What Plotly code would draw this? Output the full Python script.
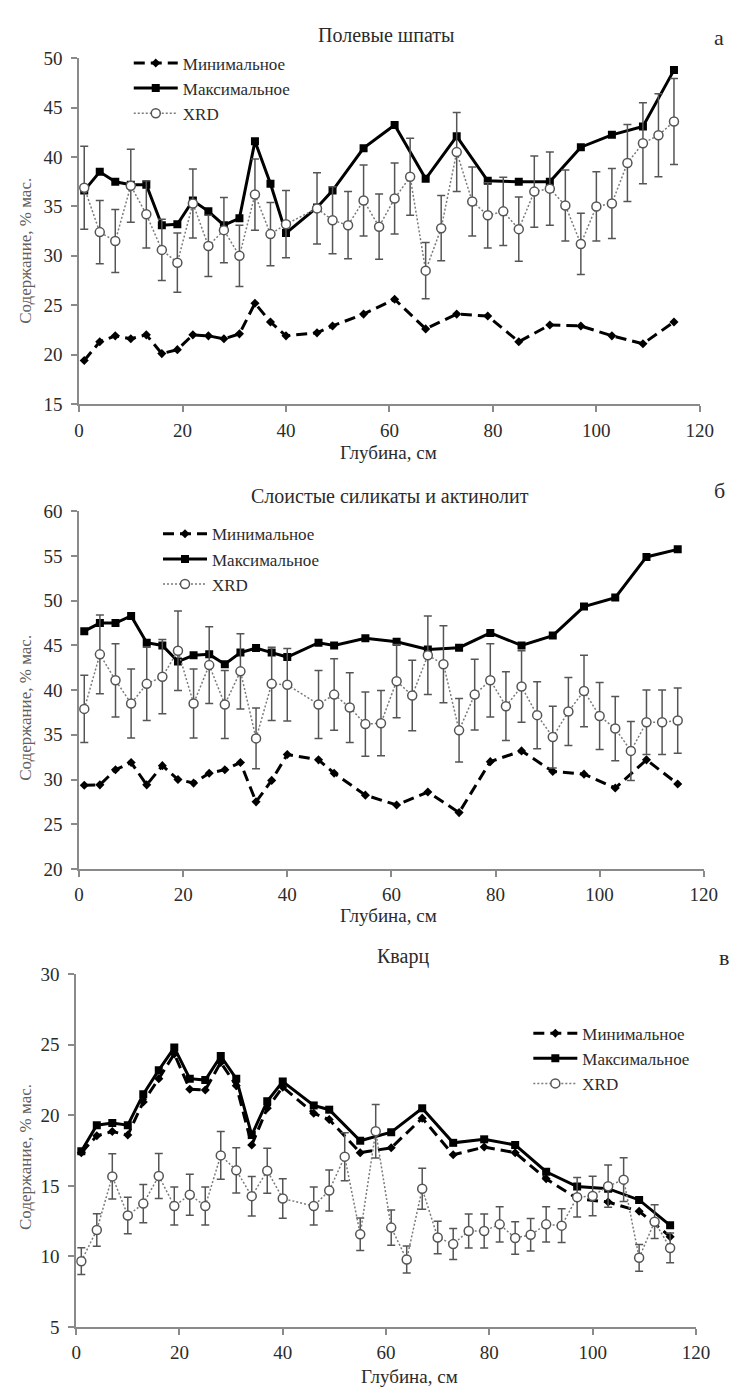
import plotly.graph_objects as go

W, H = 746, 1397

# ---------------- data ----------------
model_depth = [1, 4, 7, 10, 13, 16, 19, 22, 25, 28, 31, 34, 37, 40, 46, 49, 55,
               61, 67, 73, 79, 85, 91, 97, 103, 109, 115]
xrd_depth = [1, 4, 7, 10, 13, 16, 19, 22, 25, 28, 31, 34, 37, 40, 46, 49, 52, 55,
             58, 61, 64, 67, 70, 73, 76, 79, 82, 85, 88, 91, 94, 97, 100, 103, 106,
             109, 112, 115]

# Panel a - feldspars
min_a = [19.4, 21.3, 21.9, 21.6, 22.0, 20.1, 20.5, 22.0, 21.9, 21.6, 22.1, 25.2, 23.3,
         21.9, 22.2, 22.9, 24.1, 25.6, 22.6, 24.1, 23.9, 21.3, 23.0, 22.9, 21.9, 21.1, 23.3]
max_a = [36.6, 38.5, 37.5, 37.2, 37.2, 33.1, 33.2, 35.6, 34.5, 33.1, 33.8, 41.6, 37.3,
         32.3, 34.9, 36.6, 40.9, 43.25, 37.8, 42.1, 37.6, 37.5, 37.5, 41.0, 42.25, 43.1, 48.8]
xrd_a = [36.9, 32.4, 31.5, 37.1, 34.2, 30.6, 29.3, 35.3, 31.0, 32.6, 30.0, 36.2, 32.2, 33.2,
         34.8, 33.6, 33.1, 35.6,
         32.95, 35.8, 38.0, 28.5, 32.8, 40.5, 35.5, 34.1, 34.5, 32.7, 36.5, 36.8, 35.1, 31.2,
         35.0, 35.3, 39.4, 41.4, 42.2, 43.6]
err_a = [4.2, 3.2, 3.2, 3.7, 3.4, 3.1, 3.0, 3.5, 3.1, 3.3, 3.1, 3.6, 3.2, 3.4,
         3.6, 3.4, 3.4, 3.6,
         3.3, 3.6, 3.9, 2.85, 3.3, 4.0, 3.5, 3.3, 3.45, 3.25, 3.6, 3.7, 3.6, 3.1,
         3.5, 3.55, 3.9, 4.1, 4.2, 4.35]

# Panel b - layered silicates and actinolite
min_b = [29.35, 29.4, 31.1, 31.9, 29.4, 31.55, 30.0, 29.6, 30.7, 31.1, 31.9, 27.5, 29.9,
         32.8, 32.2, 30.7, 28.25, 27.15, 28.6, 26.3, 32.0, 33.2, 30.9, 30.6, 29.05, 32.2, 29.5]
max_b = [46.6, 47.5, 47.5, 48.3, 45.3, 45.0, 43.2, 43.9, 44.0, 42.9, 44.2, 44.7, 44.2,
         43.7, 45.3, 45.0, 45.8, 45.4, 44.55, 44.75, 46.4, 45.0, 46.1, 49.35, 50.35, 54.9, 55.75]
xrd_b = [37.9, 44.0, 41.1, 38.5, 40.7, 41.5, 44.4, 38.5, 42.8, 38.4, 42.1, 34.6, 40.7, 40.6,
         38.4, 39.5, 38.05, 36.2,
         36.3, 41.0, 39.4, 43.9, 42.9, 35.5, 39.5, 41.1, 38.2, 40.4, 37.2, 34.75, 37.6, 39.9,
         37.1, 35.7, 33.2, 36.4, 36.4, 36.6]
err_b = [3.75, 4.4, 4.1, 3.85, 4.1, 4.15, 4.45, 3.85, 4.3, 3.8, 4.2, 3.4, 4.1, 4.05,
         3.8, 4.0, 3.9, 3.6,
         3.65, 4.1, 3.95, 4.4, 4.3, 3.55, 3.95, 4.1, 3.85, 4.0, 3.75, 3.45, 3.8, 4.0,
         3.75, 3.6, 3.3, 3.6, 3.6, 3.65]

# Panel c - quartz
min_c = [17.35, 18.55, 18.85, 18.6, 20.95, 22.6, 24.35, 21.85, 21.8, 23.75, 22.1, 17.9, 20.5,
         22.0, 20.15, 19.7, 17.35, 17.7, 19.8, 17.2, 17.75, 17.35, 15.5, 14.1, 13.85, 13.2, 11.4]
max_c = [17.46, 19.3, 19.45, 19.3, 21.5, 23.2, 24.8, 22.6, 22.5, 24.2, 22.6, 18.6, 21.0,
         22.4, 20.7, 20.4, 18.2, 18.8, 20.5, 18.05, 18.3, 17.9, 16.0, 14.95, 14.8, 14.0, 12.2]
xrd_c = [9.66, 11.87, 15.67, 12.9, 13.74, 15.7, 13.57, 14.37, 13.57, 17.16, 16.1, 14.27, 16.07, 14.1,
         13.57, 14.67, 17.07, 11.57,
         18.87, 12.04, 9.78, 14.79, 11.34, 10.87, 11.8, 11.8, 12.27, 11.3, 11.53, 12.27, 12.18,
         14.2, 14.28, 14.98, 15.44, 9.9, 12.46, 10.6]
err_c = [0.95, 1.15, 1.6, 1.3, 1.35, 1.6, 1.35, 1.45, 1.35, 1.7, 1.6, 1.4, 1.6, 1.4,
         1.35, 1.45, 1.7, 1.15,
         1.9, 1.25, 0.95, 1.45, 1.15, 1.1, 1.2, 1.2, 1.25, 1.15, 1.15, 1.25, 1.2,
         1.4, 1.4, 1.5, 1.55, 0.95, 1.2, 1.05]

titles = ["Полевые шпаты", "Слоистые силикаты и актинолит", "Кварц"]
letters = ["а", "б", "в"]
series_names = ["Минимальное", "Максимальное", "XRD"]
x_title = "Глубина, см"
y_title = "Содержание, % мас."
y_ranges = [(15, 50), (20, 60), (5, 30)]

# ---------------- layout geometry (pixels) ----------------
FONT = "Liberation Serif"
TXT = "#2b2b2b"
AX = "#8a8a8a"

panels = [
    dict(x0=76, x1=713, y0=49, y1=400, title_xy=(391, 25), letter_xy=(733, 28),
         xt_xy=(394, 449), yt_xy=(21, 244), leg_xy=(127, 36)),
    dict(x0=76, x1=717, y0=509, y1=872, title_xy=(395, 493), letter_xy=(733, 488),
         xt_xy=(394, 919), yt_xy=(21, 708), leg_xy=(157, 514)),
    dict(x0=73, x1=709, y0=979, y1=1337, title_xy=(408, 961), letter_xy=(738, 962),
         xt_xy=(415, 1387), yt_xy=(21, 1164), leg_xy=(537, 1021)),
]

def px(x):
    return x / W

def py(y):
    return 1 - y / H

data_sets = [(min_a, max_a, xrd_a, err_a), (min_b, max_b, xrd_b, err_b),
             (min_c, max_c, xrd_c, err_c)]

fig = go.Figure()
annotations = []
for i, (p, (mn, mx, xr, er)) in enumerate(zip(panels, data_sets)):
    k = "" if i == 0 else str(i + 1)
    xa, ya = "x" + k, "y" + k
    leg = "legend" + k
    fig.add_trace(go.Scatter(
        x=model_depth, y=mn, name=series_names[0], xaxis=xa, yaxis=ya, legend=leg,
        mode="lines+markers",
        line=dict(color="black", width=3, dash="11px,6px"),
        marker=dict(symbol="diamond", size=7, color="black")))
    fig.add_trace(go.Scatter(
        x=model_depth, y=mx, name=series_names[1], xaxis=xa, yaxis=ya, legend=leg,
        mode="lines+markers",
        line=dict(color="black", width=3),
        marker=dict(symbol="square", size=8, color="black")))
    fig.add_trace(go.Scatter(
        x=xrd_depth, y=xr, name=series_names[2], xaxis=xa, yaxis=ya, legend=leg,
        mode="lines+markers",
        line=dict(color="#7a7a7a", width=1.5, dash="2px,2px"),
        marker=dict(symbol="circle", size=9, color="white",
                    line=dict(color="#555555", width=1.5)),
        error_y=dict(type="data", array=er, visible=True, color="#555555",
                     thickness=1.5, width=4)))

    axis_common = dict(showline=True, linecolor=AX, linewidth=1.5, ticks="outside",
                       ticklen=6, tickcolor=AX, tickwidth=1.5, showgrid=False,
                       zeroline=False, tickfont=dict(family=FONT, size=19, color=TXT))
    fig.update_layout(**{
        "xaxis" + k: dict(domain=[px(p["x0"]), px(p["x1"])], anchor=ya, range=[0, 120],
                          dtick=20, tick0=0, ticklabelstandoff=2, **axis_common),
        "yaxis" + k: dict(domain=[py(p["y1"]), py(p["y0"])], anchor=xa,
                          range=list(y_ranges[i]), dtick=5, tick0=0,
                          ticklabelstandoff=5, **axis_common),
        leg: dict(x=px(p["leg_xy"][0]), y=py(p["leg_xy"][1]), xanchor="left",
                  yanchor="top", bgcolor="rgba(0,0,0,0)", itemwidth=44,
                  font=dict(family=FONT, size=17, color=TXT), tracegroupgap=0),
    })
    annotations += [
        dict(text=titles[i], x=px(p["title_xy"][0]), y=py(p["title_xy"][1]),
             xref="paper", yref="paper", showarrow=False, xanchor="center",
             yanchor="middle", font=dict(family=FONT, size=20, color=TXT)),
        dict(text=letters[i], x=px(p["letter_xy"][0]), y=py(p["letter_xy"][1]),
             xref="paper", yref="paper", showarrow=False, xanchor="center",
             yanchor="middle", font=dict(family=FONT, size=22, color=TXT)),
        dict(text=x_title, x=px(p["xt_xy"][0]), y=py(p["xt_xy"][1]),
             xref="paper", yref="paper", showarrow=False, xanchor="center",
             yanchor="middle", font=dict(family=FONT, size=19, color=TXT)),
        dict(text=y_title, x=px(p["yt_xy"][0]), y=py(p["yt_xy"][1]), textangle=-90,
             xref="paper", yref="paper", showarrow=False, xanchor="center",
             yanchor="middle", font=dict(family=FONT, size=17, color="#606060")),
    ]

fig.update_layout(width=W, height=H, margin=dict(l=0, r=0, t=0, b=0),
                  paper_bgcolor="white", plot_bgcolor="white",
                  annotations=annotations, showlegend=True)

fig.write_html("out.html")
